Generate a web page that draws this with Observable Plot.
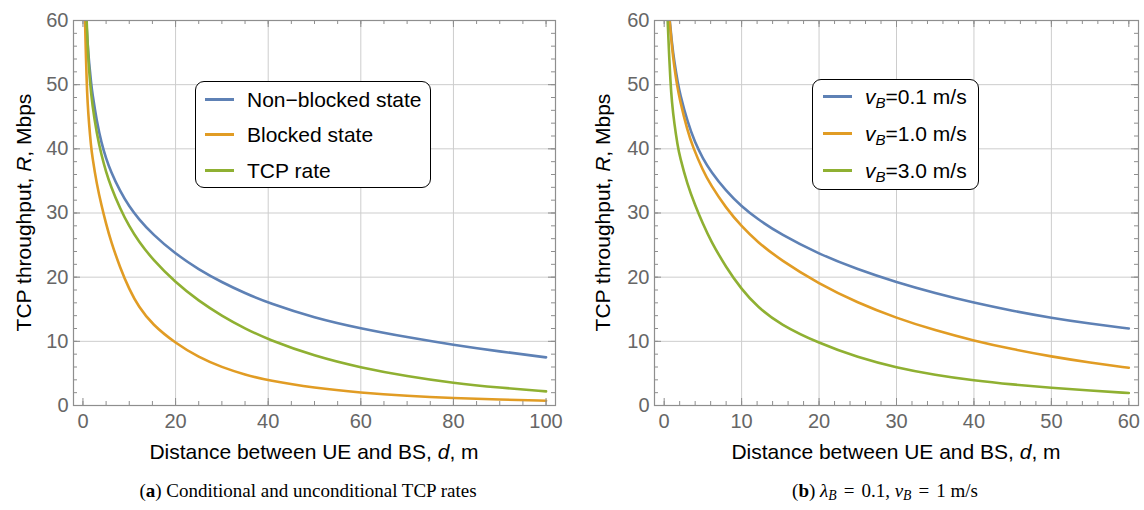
<!DOCTYPE html>
<html><head><meta charset="utf-8">
<script src="https://cdn.jsdelivr.net/npm/d3@7"></script>
<script src="https://cdn.jsdelivr.net/npm/@observablehq/plot@0.6"></script>
<style>
body{margin:0;background:#fff;width:1144px;height:510px;overflow:hidden;font-family:"Liberation Sans",Arial,sans-serif;}
#wrap{position:relative;width:1144px;height:510px;}
.panel{position:absolute;top:0;width:572px;height:470px;}
.legend{position:absolute;border:1.5px solid #000;border-radius:9px;background:#fff;box-sizing:border-box;}
.sw{position:absolute;height:3px;}
.lt{position:absolute;font-size:21px;line-height:21px;white-space:nowrap;color:#000;}
.lt sub{font-size:0.72em;vertical-align:-0.28em;line-height:0;}
.cap{position:absolute;top:479px;font-family:"Liberation Serif",serif;font-size:19px;line-height:24px;text-align:center;white-space:nowrap;color:#000;}
.cap sub{font-size:0.72em;vertical-align:-0.25em;line-height:0;}
.cap .eq{margin:0 7px;}
</style></head><body><div id="wrap"></div>
<script>
// ---------- Data: panel (a) ----------
const distA_nonBlocked = [0.72,1,1.3,1.8,2,3,4,5,6,8,10,12,15,20,25,30,35,40,50,60,70,80,90,100];
const rateA_nonBlocked = [60,56.5,53.6,50,48.8,44.2,40.9,38.5,36.5,33.4,31.0,29.1,26.7,23.6,21.2,19.2,17.5,16.0,13.65,12.0,10.65,9.45,8.42,7.5];
const distA_blocked = [0.45,0.6,0.8,1,1.3,1.75,2,3,4,5,6,8,10,12,15,20,25,30,35,40,50,60,70,80,90,100];
const rateA_blocked = [60,55.6,50.6,47.2,44.0,40.4,38.9,34.4,31.2,28.3,25.7,21.5,18.1,15.4,12.6,9.7,7.5,5.95,4.8,3.9,2.73,2.0,1.49,1.14,0.92,0.75];
const distA_tcp = [0.8,1,1.2,1.5,2,3,4,5,6,8,10,12,15,20,25,30,35,40,50,60,70,80,90,100];
const rateA_tcp = [60,56.5,53.6,50.6,46.9,42.3,39.0,36.4,34.2,30.7,27.9,25.6,22.8,19.15,16.3,13.96,11.99,10.28,7.7,5.9,4.55,3.5,2.78,2.2];
const seriesNamesA = ["Non\u2212blocked state","Blocked state","TCP rate"];
const xTicksA = [0,20,40,60,80,100];

// ---------- Data: panel (b) ----------
const distB_v01 = [0.72,1,1.3,1.8,2,3,4,5,6,8,10,12,15,20,25,30,35,40,45,50,55,60];
const rateB_v01 = [60,56.5,53.6,50,48.8,44.2,40.9,38.5,36.5,33.4,31.0,29.1,26.7,23.6,21.2,19.2,17.5,16.0,14.75,13.65,12.75,12.0];
const distB_v10 = [0.7,1,1.3,1.65,2,3,3.7,5,6,8,10,12,15,20,25,30,35,40,45,50,55,60];
const rateB_v10 = [60,55.95,52.8,50,47.7,42.85,40.3,36.63,34.37,30.75,27.9,25.53,22.7,18.95,16.0,13.62,11.7,10.1,8.76,7.62,6.68,5.88];
const distB_v30 = [0.45,0.6,0.8,1,1.3,1.75,2,3,4,5,6,8,10,12,15,20,25,30,35,40,45,50,55,60];
const rateB_v30 = [60,55.6,50.6,47.2,44.0,40.4,38.9,34.4,31.2,28.3,25.7,21.5,18.1,15.4,12.6,9.7,7.5,5.9,4.75,3.9,3.27,2.75,2.32,1.95];
const seriesNamesB = ["0.1","1.0","3.0"];
const xTicksB = [0,10,20,30,40,50,60];

const yTicks = [0,10,20,30,40,50,60];
const colors = ["#5E81B5","#E19C24","#8FB032"];

const W = 572, H = 470, MT = 20, MB = 65;
const gridColor = "#cdcdcd", frameColor = "#8e8e8e", tickText = "#666";

function makePanel({series, xDomain, xMajor, xMinor, marginLeft, marginRight, yLabelX}) {
  const fw = W - marginLeft - marginRight, fh = H - MT - MB;
  const yMinor = d3.range(0, 61, 2);
  const xGrid = xMajor.slice(1, -1), yGrid = yTicks.slice(1, -1);
  const marks = [
    Plot.ruleX(xGrid, {stroke: gridColor, strokeWidth: 1}),
    Plot.ruleY(yGrid, {stroke: gridColor, strokeWidth: 1}),
    ...series.map((s, i) => Plot.line(s.d.map((d, j) => ({d, r: s.r[j]})), {
      x: "d", y: "r", stroke: colors[i], strokeWidth: 2.6, curve: "basis", clip: true
    })),
    Plot.frame({stroke: frameColor, strokeWidth: 1.2}),
    Plot.tickX(xMajor, {stroke: frameColor, insetTop: fh - 7}),
    Plot.tickX(xMinor, {stroke: frameColor, insetTop: fh - 4}),
    Plot.tickX(xMajor, {stroke: frameColor, insetBottom: fh - 7}),
    Plot.tickX(xMinor, {stroke: frameColor, insetBottom: fh - 4}),
    Plot.tickY(yTicks, {stroke: frameColor, insetRight: fw - 7}),
    Plot.tickY(yMinor, {stroke: frameColor, insetRight: fw - 4}),
    Plot.tickY(yTicks, {stroke: frameColor, insetLeft: fw - 7}),
    Plot.tickY(yMinor, {stroke: frameColor, insetLeft: fw - 4}),
    Plot.axisX(xMajor, {tickSize: 0, tickPadding: 8, fill: tickText, fontSize: 20, label: null}),
    Plot.axisY(yTicks, {tickSize: 0, tickPadding: 5, fill: tickText, fontSize: 20, label: null})
  ];
  const svg = Plot.plot({
    width: W, height: H, marginTop: MT, marginBottom: MB, marginLeft, marginRight,
    style: {fontFamily: "'Liberation Sans', Arial, sans-serif", fontSize: "20px", background: "#fff", overflow: "visible"},
    x: {domain: xDomain, axis: null},
    y: {domain: [0, 60], axis: null},
    marks
  });
  const s = d3.select(svg);
  const xl = s.append("text").attr("x", marginLeft + fw / 2).attr("y", 459)
    .attr("text-anchor", "middle").attr("fill", "#000").style("font-size", "21px");
  xl.append("tspan").text("Distance between UE and BS, ");
  xl.append("tspan").attr("font-style", "italic").text("d");
  xl.append("tspan").text(", m");
  const yl = s.append("text").attr("transform", `translate(${yLabelX},${MT + fh / 2}) rotate(-90)`)
    .attr("text-anchor", "middle").attr("fill", "#000").style("font-size", "21px");
  yl.append("tspan").text("TCP throughput, ");
  yl.append("tspan").attr("font-style", "italic").text("R");
  yl.append("tspan").text(", Mbps");
  return svg;
}

const wrap = document.getElementById("wrap");
function addPanel(left, svg) {
  const div = document.createElement("div");
  div.className = "panel";
  div.style.left = left + "px";
  div.appendChild(svg);
  wrap.appendChild(div);
}

addPanel(0, makePanel({
  series: [{d: distA_nonBlocked, r: rateA_nonBlocked}, {d: distA_blocked, r: rateA_blocked}, {d: distA_tcp, r: rateA_tcp}],
  xDomain: [-2.04, 102.04], xMajor: xTicksA, xMinor: d3.range(0, 101, 5),
  marginLeft: 73, marginRight: 17, yLabelX: 31
}));
addPanel(572, makePanel({
  series: [{d: distB_v01, r: rateB_v01}, {d: distB_v10, r: rateB_v10}, {d: distB_v30, r: rateB_v30}],
  xDomain: [-1.25, 61.25], xMajor: xTicksB, xMinor: d3.range(0, 61, 2),
  marginLeft: 82, marginRight: 6, yLabelX: 38
}));

function addLegend(box, rows, swLeft, swWidth, textLeft, items) {
  const lg = document.createElement("div");
  lg.className = "legend";
  Object.assign(lg.style, {left: box[0] + "px", top: box[1] + "px", width: box[2] + "px", height: box[3] + "px"});
  items.forEach((html, i) => {
    const sw = document.createElement("div");
    sw.className = "sw";
    Object.assign(sw.style, {left: swLeft + "px", width: swWidth + "px", top: (rows[i] - 3) + "px", background: colors[i]});
    lg.appendChild(sw);
    const t = document.createElement("div");
    t.className = "lt";
    Object.assign(t.style, {left: textLeft + "px", top: (rows[i] - 12) + "px"});
    t.innerHTML = html;
    lg.appendChild(t);
  });
  wrap.appendChild(lg);
}
addLegend([195, 81, 236, 107], [18.5, 54, 90], 9, 29, 51, seriesNamesA);
addLegend([812, 79, 167, 111], [17.7, 55, 92], 9.7, 29.3, 52,
  seriesNamesB.map(v => `<i>v</i><sub><i>B</i></sub>=${v} m/s`));

function addCaption(center, html) {
  const c = document.createElement("div");
  c.className = "cap";
  Object.assign(c.style, {left: (center - 250) + "px", width: "500px"});
  c.innerHTML = html;
  wrap.appendChild(c);
}
addCaption(308, "(<b>a</b>) Conditional and unconditional TCP rates");
addCaption(885, "(<b>b</b>) <i>\u03bb</i><sub><i>B</i></sub><span class='eq'>=</span>0.1, <i>v</i><sub><i>B</i></sub><span class='eq'>=</span>1 m/s");
</script></body></html>
